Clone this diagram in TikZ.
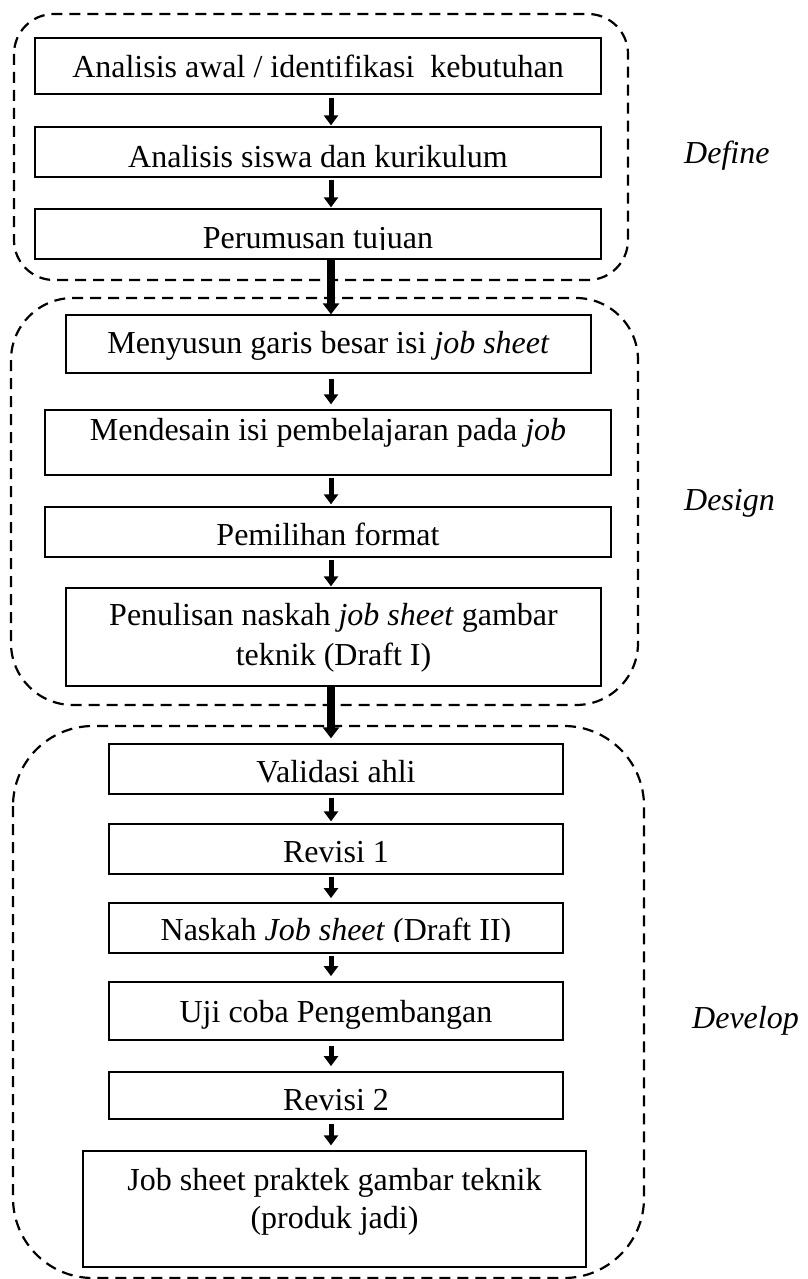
\documentclass[tikz,border=0pt]{standalone}
\usepackage{fontspec}
\setmainfont{Liberation Serif}
\usetikzlibrary{arrows.meta,fit}
\begin{document}
\begin{tikzpicture}[x=1pt,y=-1pt,
  box/.style={draw=black,line width=1.3pt,inner sep=0pt,rectangle},
  boxthick/.style={box,line width=1.8pt},
  txt/.style={inner sep=0pt,anchor=base,font=\fontsize{32pt}{38pt}\selectfont},
  lbl/.style={inner sep=0pt,anchor=base west,font=\fontsize{32pt}{38pt}\selectfont\itshape},
  grp/.style={draw=black,line width=2.2pt,dash pattern=on 11pt off 7pt},
  arr/.style={line width=5pt,-{Triangle[width=14pt,length=10pt]}},
  arrlong/.style={line width=8pt,-{Triangle[width=16pt,length=11pt]}}]
\fill[white] (0,0) rectangle (807,1279);
\useasboundingbox (0,0) rectangle (807,1279);
% groups
\draw[grp,rounded corners=40pt] (14,14) rectangle (628,280);
\draw[grp,rounded corners=62pt] (11,298) rectangle (638,705);
\draw[grp,rounded corners=80pt] (13,726) rectangle (644,1278);
% boxes
\node[box,fit={(35,38) (601,94)}] (b1) {};
\node[box,fit={(35,127) (601,177)}] (b2) {};
\node[box,fit={(35,209) (601,259)}] (b3) {};
\node[box,fit={(66,315) (591,373)}] (b4) {};
\node[box,fit={(45,410) (611,475)}] (b5) {};
\node[box,fit={(45,507) (611,557)}] (b6) {};
\node[box,fit={(66,588) (601,686)}] (b7) {};
\node[box,fit={(109,744) (563,794)}] (b8) {};
\node[box,fit={(109,824) (563,874)}] (b9) {};
\node[boxthick,fit={(109,903) (563,953)}] (b10) {};
\node[boxthick,fit={(109,982) (563,1040)}] (b11) {};
\node[boxthick,fit={(109,1072) (563,1119)}] (b12) {};
\node[box,fit={(83,1151) (586,1267)}] (b13) {};
% texts
\node[txt] (t1) at (318,78) {Analisis awal / identifikasi~ kebutuhan};
\node[txt] (t2) at (318,167) {Analisis siswa dan kurikulum};
\begin{scope}
\clip (35,209) rectangle (601,249);
\node[txt] (t3) at (318,248) {Perumusan tujuan};
\end{scope}
\node[txt] (t4) at (328.5,353) {Menyusun garis besar isi \textit{job sheet}};
\node[txt] (t5) at (328,440) {Mendesain isi pembelajaran pada \textit{job}};
\node[txt] (t6) at (328,545) {Pemilihan format};
\node[txt] (t7a) at (333.5,625) {Penulisan naskah \textit{job sheet} gambar};
\node[txt] (t7b) at (333.5,665) {teknik (Draft I)};
\node[txt] (t8) at (336,782) {Validasi ahli};
\node[txt] (t9) at (336,862) {Revisi 1};
\begin{scope}
\clip (109,903) rectangle (563,941);
\node[txt] (t10) at (336,940) {Naskah \textit{Job sheet} (Draft II)};
\end{scope}
\node[txt] (t11) at (336,1022) {Uji coba Pengembangan};
\begin{scope}
\clip (109,1072) rectangle (563,1111);
\node[txt] (t12) at (336,1110) {Revisi 2};
\end{scope}
\node[txt] (t13a) at (334.5,1190) {Job sheet praktek gambar teknik};
\node[txt] (t13b) at (334.5,1228) {(produk jadi)};
% phase labels
\node[lbl] (ldef) at (684,164) {Define};
\node[lbl] (ldes) at (684,510) {Design};
\node[lbl] (ldev) at (692,1028) {Develop};
% arrows
\coordinate (ax) at (331,0);
\draw[arr,shorten <=3pt,shorten >=1pt] (b1.south -| ax) -- (b2.north -| ax);
\draw[arr,shorten <=2pt,shorten >=1pt] (b2.south -| ax) -- (b3.north -| ax);
\draw[arrlong] (b3.south -| ax) -- (b4.north -| ax);
\draw[arr,shorten <=5pt,shorten >=5pt] (b4.south -| ax) -- (b5.north -| ax);
\draw[arr,shorten <=2pt,shorten >=2pt] (b5.south -| ax) -- (b6.north -| ax);
\draw[arr,shorten <=2pt,shorten >=1pt] (b6.south -| ax) -- (b7.north -| ax);
\draw[arrlong,shorten >=5pt] (b7.south -| ax) -- (b8.north -| ax);
\draw[arr,shorten <=3pt,shorten >=2pt] (b8.south -| ax) -- (b9.north -| ax);
\draw[arr,shorten <=2pt,shorten >=4pt] (b9.south -| ax) -- (b10.north -| ax);
\draw[arr,shorten <=2pt,shorten >=5pt] (b10.south -| ax) -- (b11.north -| ax);
\draw[arr,shorten <=5pt,shorten >=5pt] (b11.south -| ax) -- (b12.north -| ax);
\draw[arr,shorten <=4pt,shorten >=5pt] (b12.south -| ax) -- (b13.north -| ax);
\end{tikzpicture}
\end{document}
